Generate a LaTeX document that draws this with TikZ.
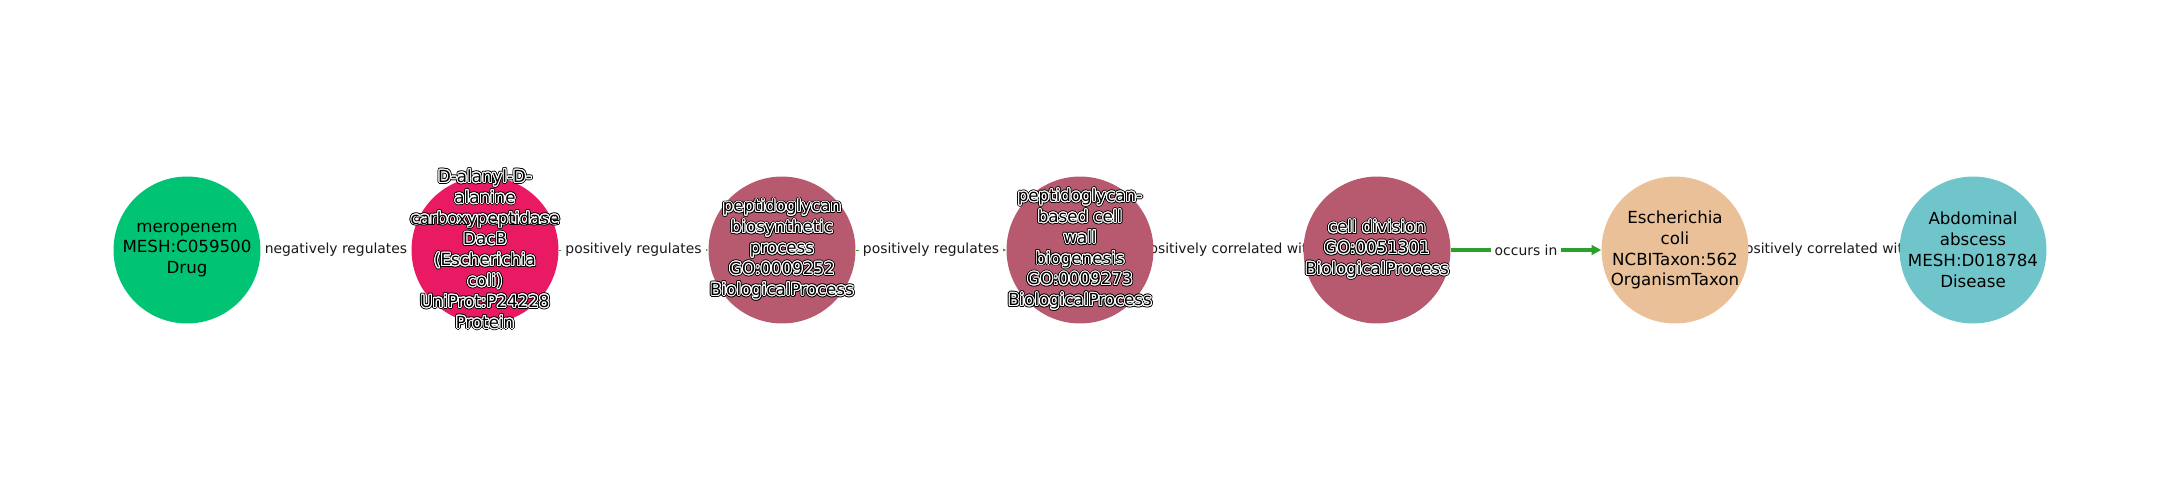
\documentclass[tikz,border=0pt]{standalone}
\usepackage{fontspec}
\setmainfont{DejaVu Sans}
\usepackage{contour}
\usepackage{tikz}
\usetikzlibrary{
    arrows.meta,
    backgrounds
}

\definecolor{drugcol}{RGB}{0,195,115}
\definecolor{protcol}{RGB}{233,26,99}
\definecolor{proccol}{RGB}{183,90,112}
\definecolor{taxcol}{RGB}{233,192,151}
\definecolor{discol}{RGB}{112,197,203}
\definecolor{edgecol}{RGB}{44,160,44}

% black text, white halo, black rim
\newcommand{\halo}[1]{\rlap{\contourlength{1.4pt}\contour{black}{#1}}\contourlength{0.7pt}\contour{white}{#1}}

\tikzset{
    bubble/.style={circle, minimum size=105.8pt, inner sep=0pt},
    nodetext/.style={align=center, font=\fontsize{12}{15}\selectfont},
    rel/.style={draw=edgecol, line width=0.7pt, -{Stealth[length=5pt,width=4pt]}},
    rellabel/.style={fill=white, inner sep=3pt, font=\fontsize{10}{12}\selectfont, text=black!90}
}

\begin{document}
\begin{tikzpicture}[x=0.72pt, y=-0.72pt]
                        \useasboundingbox (0, 0) rectangle (2160, 500);

                        \node[bubble, fill=drugcol] (mero) at (187, 250) {};
                        \node[bubble, fill=protcol] (dacb) at (485, 250) {};
                        \node[bubble, fill=proccol] (pgbio) at (782, 250) {};
                        \node[bubble, fill=proccol] (wall) at (1080, 250) {};
                        \node[bubble, fill=proccol] (celldiv) at (1377, 250) {};
                        \node[bubble, fill=taxcol] (ecoli) at (1675, 250) {};
                        \node[bubble, fill=discol] (absc) at (1973, 250) {};

                        \node[nodetext] at (mero) {meropenem\\MESH:C059500\\Drug};
                        \node[nodetext] at (dacb) {\halo{D-alanyl-D-}\\\halo{alanine}\\\halo{carboxypeptidase}\\\halo{DacB}\\\halo{(Escherichia}\\\halo{coli)}\\\halo{UniProt:P24228}\\\halo{Protein}};
                        \node[nodetext] at (pgbio) {\halo{peptidoglycan}\\\halo{biosynthetic}\\\halo{process}\\\halo{GO:0009252}\\\halo{BiologicalProcess}};
                        \node[nodetext] at (wall) {\halo{peptidoglycan-}\\\halo{based cell}\\\halo{wall}\\\halo{biogenesis}\\\halo{GO:0009273}\\\halo{BiologicalProcess}};
                        \node[nodetext] at (celldiv) {\halo{cell division}\\\halo{GO:0051301}\\\halo{BiologicalProcess}};
                        \node[nodetext] at (ecoli) {Escherichia\\coli\\NCBITaxon:562\\OrganismTaxon};
                        \node[nodetext] at (absc) {Abdominal\\abscess\\MESH:D018784\\Disease};

                        \begin{scope}[on background layer]
                        \draw[rel] (mero) -- node[rellabel] {negatively regulates} (dacb);
                        \draw[rel] (dacb) -- node[rellabel] {positively regulates} (pgbio);
                        \draw[rel] (pgbio) -- node[rellabel] {positively regulates} (wall);
                        \draw[rel] (wall) -- node[rellabel] {positively correlated with} (celldiv);
                        \draw[rel, line width=2.9pt, -{Triangle[length=7pt,width=7pt]}] (celldiv) -- node[rellabel] {occurs in} (ecoli);
                        \draw[rel] (ecoli) -- node[rellabel] {positively correlated with} (absc);
                        \end{scope}
                    \end{tikzpicture}
\end{document}
